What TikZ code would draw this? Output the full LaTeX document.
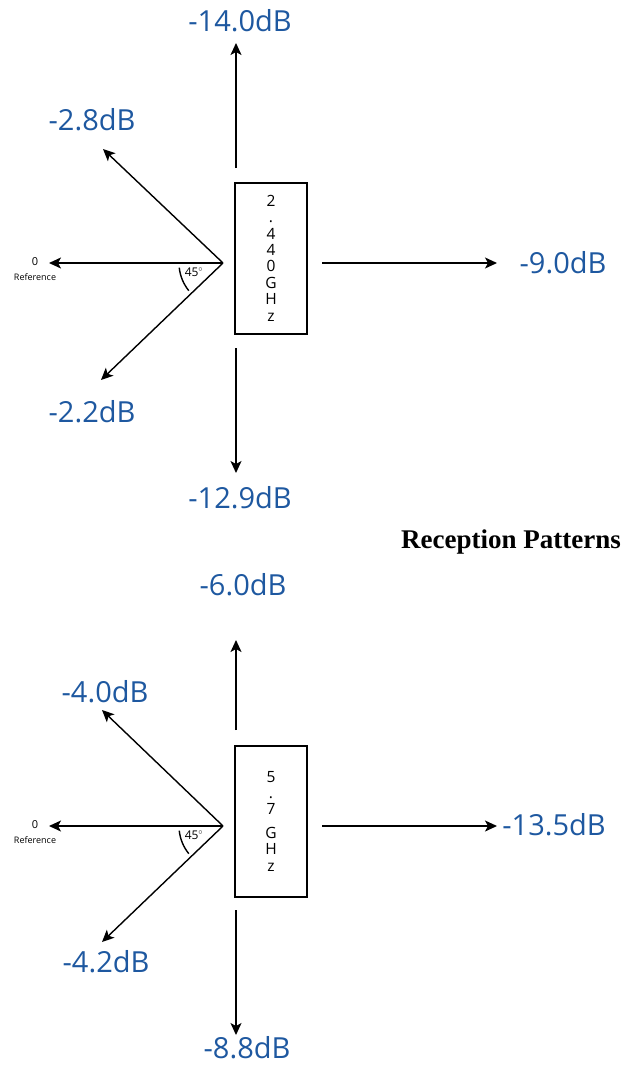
\documentclass[tikz,border=0pt]{standalone}
\usepackage{fontspec}
\usetikzlibrary{arrows.meta}
\newfontfamily\lblfont{Open Sans}
\newfontfamily\titlefont{Liberation Serif}
\definecolor{dbblue}{RGB}{30,88,160}
\tikzset{
  arr/.style={line width=1.4pt, -{Stealth[length=12pt,width=11pt,inset=3pt]}},
  plain/.style={line width=1.4pt},
  dblabel/.style={font=\lblfont\fontsize{29}{34}\selectfont, text=dbblue, inner sep=0pt},
  freqbox/.style={draw, line width=1.4pt, inner sep=0pt},
  freqtext/.style={font=\lblfont\fontsize{15.5}{16.4}\selectfont, align=center, inner sep=0pt},
  reflabel/.style={font=\lblfont\fontsize{9}{10}\selectfont, inner sep=0pt},
  zerolabel/.style={font=\lblfont\fontsize{11}{12}\selectfont, inner sep=0pt},
  anglabel/.style={font=\lblfont\fontsize{12}{14}\selectfont, inner sep=0pt},
}
\begin{document}
\begin{tikzpicture}[x=1pt, y=-1pt]
\useasboundingbox (0,0) rectangle (622,1065);

% ---------- 2.440 GHz pattern ----------
\coordinate (o1) at (223,263);
\coordinate (a1l) at (49,263);
\coordinate (a1ul) at (103,149);
\coordinate (a1dl) at (101,380);
\coordinate (a1us) at (236,168);
\coordinate (a1ut) at (236,43);
\coordinate (a1ds) at (236,348);
\coordinate (a1dt) at (236,473);
\coordinate (a1rs) at (322,263);
\coordinate (a1rt) at (497,263);

\node[freqbox, minimum width=72pt, minimum height=151pt] (box1) at (271,258.5) {};
\node[freqtext] (f1) at (271,258) {2\\.\\4\\4\\0\\G\\H\\z};

\draw[arr] (o1) -- (a1l);
\draw[arr] (o1) -- (a1ul);
\draw[arr] (o1) -- (a1dl);
\draw[arr] (a1us) -- (a1ut);
\draw[arr] (a1ds) -- (a1dt);
\draw[arr] (a1rs) -- (a1rt);
\draw[plain] (o1) ++(174:44) arc[start angle=174, end angle=141, radius=44];

\node[zerolabel] (z1) at (35,262) {0};
\node[reflabel] (r1) at (35,277) {Reference};
\node[anglabel] (g1) at (194,272) {45$^{\circ}$};

\node[dblabel] (l1u) at (240,21) {-14.0dB};
\node[dblabel] (l1ul) at (92,120) {-2.8dB};
\node[dblabel] (l1dl) at (92,412) {-2.2dB};
\node[dblabel] (l1d) at (240,498) {-12.9dB};
\node[dblabel] (l1r) at (563,263) {-9.0dB};

% ---------- title ----------
\node[font=\titlefont\bfseries\fontsize{27}{32}\selectfont, anchor=east, inner sep=0pt] (title) at (621,542) {Reception Patterns};

% ---------- 5.7 GHz pattern ----------
\coordinate (o2) at (223,826);
\coordinate (a2l) at (49,826);
\coordinate (a2ul) at (102,710);
\coordinate (a2dl) at (102,942);
\coordinate (a2us) at (236,730);
\coordinate (a2ut) at (236,640);
\coordinate (a2ds) at (236,910);
\coordinate (a2dt) at (236,1035);
\coordinate (a2rs) at (322,826);
\coordinate (a2rt) at (497,826);

\node[freqbox, minimum width=72pt, minimum height=151pt] (box2) at (271,821.5) {};
\node[freqtext] (f2) at (271,821) {5\\.\\7\\[7pt]G\\H\\z};

\draw[arr] (o2) -- (a2l);
\draw[arr] (o2) -- (a2ul);
\draw[arr] (o2) -- (a2dl);
\draw[arr] (a2us) -- (a2ut);
\draw[arr] (a2ds) -- (a2dt);
\draw[arr] (a2rs) -- (a2rt);
\draw[plain] (o2) ++(174:44) arc[start angle=174, end angle=141, radius=44];

\node[zerolabel] (z2) at (35,825) {0};
\node[reflabel] (r2) at (35,840) {Reference};
\node[anglabel] (g2) at (194,835) {45$^{\circ}$};

\node[dblabel] (l2u) at (243,585) {-6.0dB};
\node[dblabel] (l2ul) at (105,692) {-4.0dB};
\node[dblabel] (l2dl) at (106,962) {-4.2dB};
\node[dblabel] (l2d) at (247,1048) {-8.8dB};
\node[dblabel] (l2r) at (554,825) {-13.5dB};
\end{tikzpicture}
\end{document}
